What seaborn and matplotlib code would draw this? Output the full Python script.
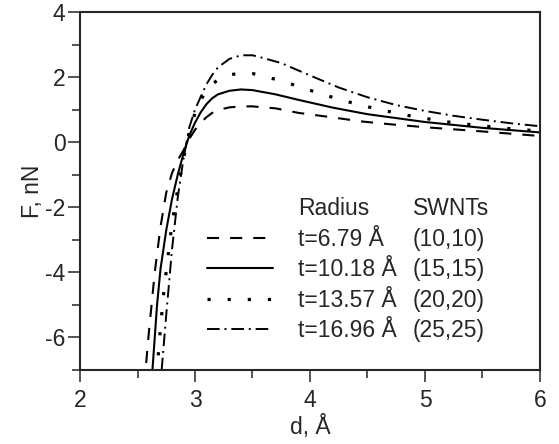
import matplotlib
matplotlib.use("Agg")
import matplotlib.pyplot as plt
from matplotlib.lines import Line2D
from matplotlib.ticker import MultipleLocator
import pandas as pd
import seaborn as sns

# Force vs distance for four armchair SWNTs
radius_labels = ["t=6.79 Å", "t=10.18 Å", "t=13.57 Å", "t=16.96 Å"]
swnt_labels = ["(10,10)", "(15,15)", "(20,20)", "(25,25)"]

d_1010 = [2.54, 2.57, 2.60, 2.65, 2.70, 2.75, 2.80, 2.85, 2.90, 2.95, 3.00,
          3.05, 3.10, 3.15, 3.20, 3.30, 3.40, 3.50, 3.70, 3.90, 4.20, 4.44,
          4.70, 5.00, 5.50, 6.00]
f_1010 = [-8.2, -7.0, -5.8, -4.0, -2.6, -1.55, -0.95, -0.55, -0.25, 0.10, 0.38,
          0.60, 0.77, 0.90, 0.99, 1.07, 1.10, 1.10, 1.04, 0.90, 0.76, 0.64,
          0.55, 0.46, 0.33, 0.19]

d_1515 = [2.60, 2.63, 2.67, 2.70, 2.75, 2.80, 2.85, 2.90, 2.95, 3.00, 3.05,
          3.10, 3.15, 3.20, 3.30, 3.40, 3.50, 3.70, 3.90, 4.20, 4.50, 5.00,
          5.50, 6.00]
f_1515 = [-8.2, -7.0, -5.0, -3.9, -2.7, -1.75, -1.0, -0.35, 0.20, 0.60, 0.92,
          1.17, 1.35, 1.47, 1.58, 1.62, 1.60, 1.47, 1.30, 1.06, 0.86, 0.62,
          0.44, 0.30]

d_2020 = [2.64, 2.67, 2.70, 2.73, 2.80, 2.85, 2.90, 2.95, 3.00, 3.05, 3.10,
          3.15, 3.20, 3.30, 3.40, 3.50, 3.63, 3.80, 3.96, 4.12, 4.28, 4.45,
          4.61, 4.78, 4.95, 5.11, 5.28, 5.45, 5.63, 5.79, 5.97, 6.05]
f_2020 = [-8.4, -7.0, -5.7, -4.55, -2.5, -1.45, -0.5, 0.30, 0.90, 1.30, 1.58,
          1.78, 1.92, 2.07, 2.12, 2.11, 2.00, 1.83, 1.64, 1.46, 1.29, 1.13,
          1.00, 0.87, 0.76, 0.67, 0.58, 0.52, 0.45, 0.40, 0.35, 0.33]

d_2525 = [2.68, 2.71, 2.75, 2.80, 2.85, 2.90, 2.95, 3.00, 3.05, 3.10, 3.15,
          3.20, 3.30, 3.40, 3.50, 3.60, 3.75, 4.00, 4.25, 4.50, 4.75, 5.00,
          5.25, 5.50, 5.75, 6.00]
f_2525 = [-8.5, -7.0, -5.3, -3.3, -1.7, -0.5, 0.45, 1.00, 1.40, 1.78, 2.07,
          2.30, 2.56, 2.67, 2.67, 2.58, 2.43, 2.05, 1.68, 1.38, 1.14, 0.96,
          0.81, 0.69, 0.58, 0.49]

x_ticks = [2, 3, 4, 5, 6]
y_ticks = [-6, -4, -2, 0, 2, 4]

series = [(d_1010, f_1010), (d_1515, f_1515), (d_2020, f_2020), (d_2525, f_2525)]
styles = [
    dict(linestyle=(0, (5.8, 5.3)), linewidth=1.5),
    dict(linestyle="-", linewidth=1.5),
    dict(linestyle=(0, (1, 5.3)), linewidth=2.3, dash_capstyle="butt"),
    dict(linestyle=(0, (6.5, 2.5, 1.0, 2.5)), linewidth=1.4),
]

sns.set_style("ticks")
plt.rcParams["font.family"] = ["Liberation Sans", "DejaVu Sans"]
plt.rcParams["axes.unicode_minus"] = False
fs = 16.5

fig = plt.figure(figsize=(5.59, 4.44), dpi=100)
ax = fig.add_axes([80 / 559, 74 / 444, 460 / 559, 358 / 444])

handles = []
for (d, f), st, lab in zip(series, styles, radius_labels):
    df = pd.DataFrame({"d": d, "F": f})
    sns.lineplot(data=df, x="d", y="F", ax=ax, color="black", sort=False,
                 label=lab, **st)
    handles.append(ax.get_lines()[-1])

ax.set_xlim(2, 6)
ax.set_ylim(-7, 4)
ax.set_xticks(x_ticks)
ax.set_yticks(y_ticks)
ax.xaxis.set_minor_locator(MultipleLocator(0.5))
ax.yaxis.set_minor_locator(MultipleLocator(1))
ax.tick_params(which="major", length=8.5, width=1.1, labelsize=fs)
ax.tick_params(axis="x", which="major", pad=5)
ax.tick_params(axis="y", which="major", pad=2)
ax.tick_params(which="minor", length=6, width=1.1)
for sp in ax.spines.values():
    sp.set_linewidth(1.5)
ax.set_xlabel("d, Å", fontsize=fs, labelpad=2)
ax.set_ylabel("F, nN", fontsize=fs, labelpad=1)

blank = Line2D([], [], linestyle="none")
leg1 = ax.legend([blank] + handles, ["Radius"] + radius_labels,
                 loc="upper left", bbox_to_anchor=(0.275, 0.483),
                 frameon=False, fontsize=fs, handlelength=2.9,
                 handletextpad=1.1, labelspacing=0.33, borderpad=0,
                 borderaxespad=0)
ax.add_artist(leg1)
ax.legend([blank] * 5, ["SWNTs"] + swnt_labels,
          loc="upper left", bbox_to_anchor=(0.724, 0.483),
          frameon=False, fontsize=fs, handlelength=0, handletextpad=0,
          labelspacing=0.33, borderpad=0, borderaxespad=0)

fig.savefig("out.png", dpi=100)
